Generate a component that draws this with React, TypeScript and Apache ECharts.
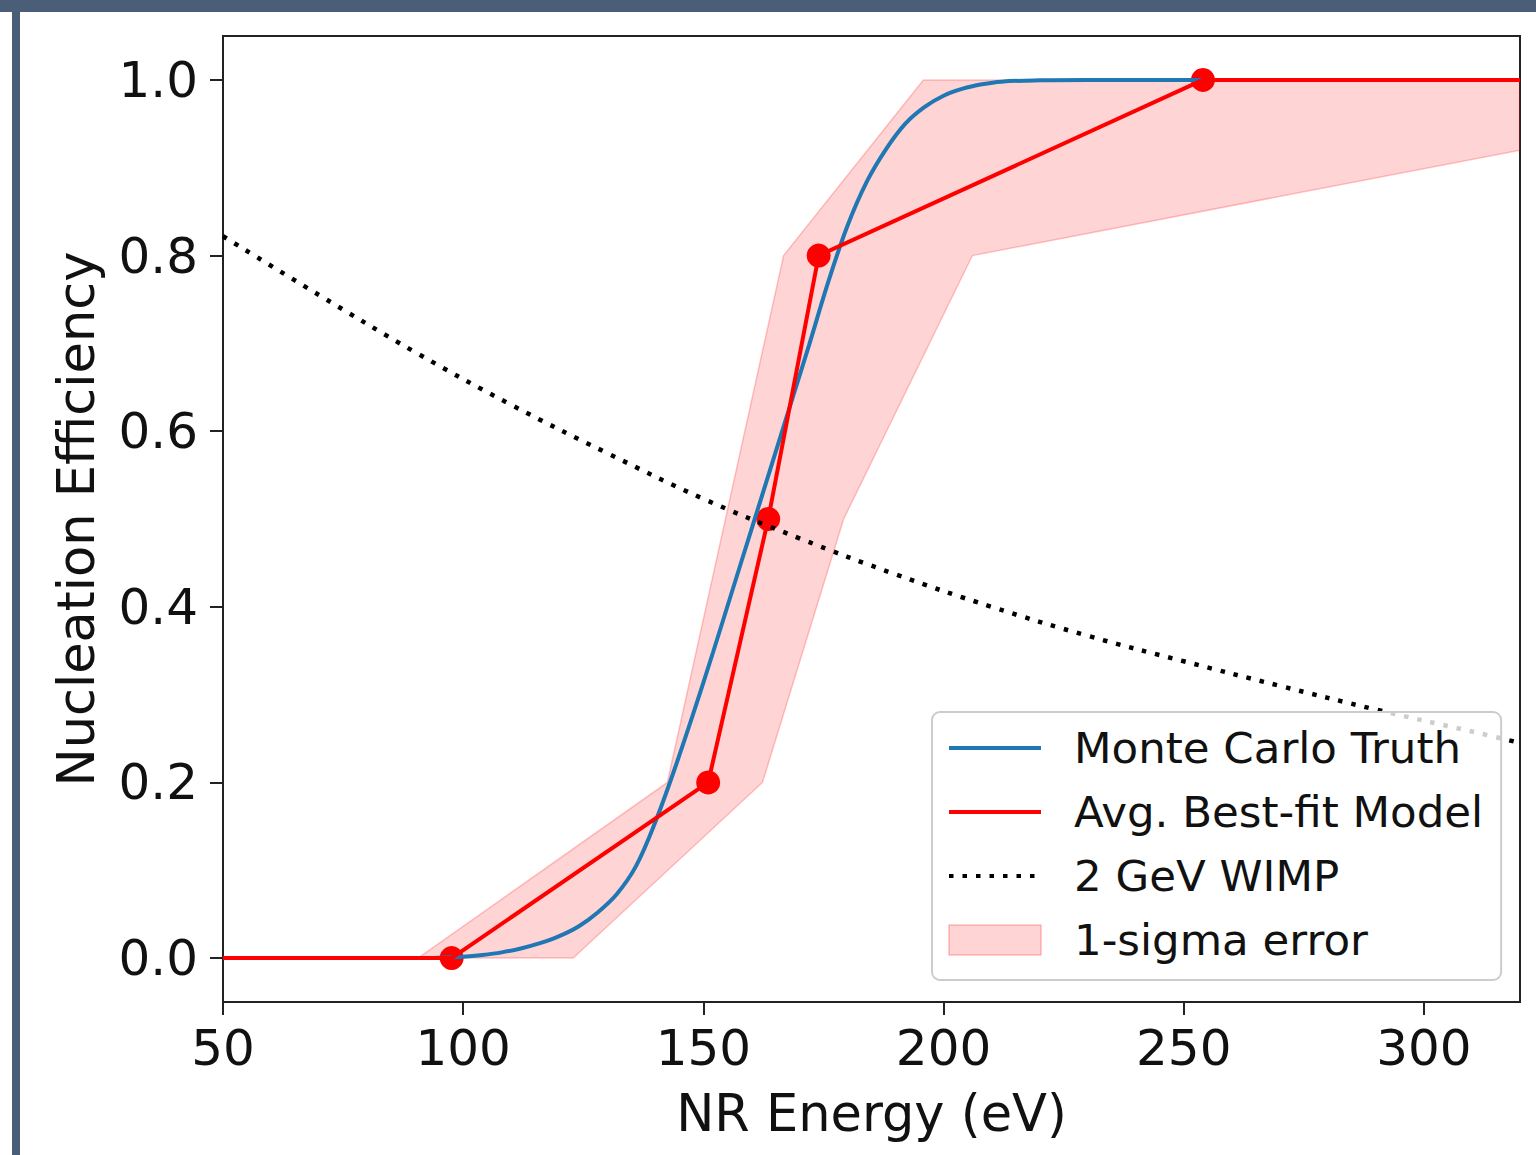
import { useEffect, useRef } from "react";
import * as echarts from "echarts";

const xTicks = [50, 100, 150, 200, 250, 300];
const yTicks = [0, 0.2, 0.4, 0.6, 0.8, 1.0];

// Monte Carlo Truth (blue)
const mcTruthX = [50, 92, 96, 100, 104, 108, 112, 116, 120, 124, 128, 132, 136, 140, 144, 148, 152, 156, 160, 164, 168, 172, 176, 180, 184, 188, 192, 196, 200, 204, 208, 212, 220, 230, 320];
const mcTruthY = [0, 0, 0.0007, 0.0015, 0.0035, 0.0065, 0.011, 0.017, 0.025, 0.036, 0.052, 0.073, 0.105, 0.155, 0.215, 0.28, 0.348, 0.418, 0.488, 0.558, 0.628, 0.698, 0.77, 0.834, 0.884, 0.921, 0.95, 0.969, 0.982, 0.99, 0.995, 0.998, 0.9995, 1.0, 1.0];

// Avg. Best-fit Model (red)
const fitX = [50, 97.6, 151, 163.5, 174, 254, 320];
const fitY = [0, 0, 0.2, 0.5, 0.8, 1.0, 1.0];
const markerX = [97.6, 151, 163.5, 174, 254];
const markerY = [0, 0.2, 0.5, 0.8, 1.0];

// 2 GeV WIMP (dotted)
const wimpX = [50, 70, 90, 110, 130, 150, 170, 190, 210, 230, 250, 270, 290, 310, 320];
const wimpY = [0.822, 0.755, 0.69, 0.63, 0.575, 0.523, 0.478, 0.437, 0.4, 0.367, 0.338, 0.31, 0.283, 0.258, 0.245];

// 1-sigma band
const bandUpperX = [50, 90.6, 142.5, 166.7, 195.8, 320];
const bandUpperY = [0, 0, 0.2, 0.8, 1.0, 1.0];
const bandLowerX = [50, 122.9, 162.3, 179.2, 206, 320];
const bandLowerY = [0, 0, 0.2, 0.5, 0.8, 0.92];

const zip = (xs: number[], ys: number[]) => xs.map((x, i) => [x, ys[i]]);

export default function App() {
  const ref = useRef<HTMLDivElement>(null);
  useEffect(() => {
    const chart = echarts.init(ref.current!, null, { renderer: "svg" });
    const bandPolygon = [
      ...zip(bandUpperX, bandUpperY),
      ...zip(bandLowerX, bandLowerY).reverse(),
    ];
    const textColor = "#111";
    const axisColor = "#222";
    const hiddenSymbol = {
      color: "rgba(0,0,0,0)",
      borderWidth: 0,
      opacity: 0,
    };
    chart.setOption({
      animation: false,
      backgroundColor: "#ffffff",
      textStyle: { fontFamily: "DejaVu Sans" },
      grid: {
        left: 223,
        top: 36,
        right: 16,
        bottom: 153,
        show: true,
        borderColor: axisColor,
        borderWidth: 2,
        backgroundColor: "transparent",
      },
      xAxis: {
        type: "value",
        min: 50,
        max: 320,
        name: "NR Energy (eV)",
        nameLocation: "middle",
        nameGap: 86,
        nameTextStyle: { fontSize: 51, color: textColor, fontFamily: "DejaVu Sans" },
        axisLine: { show: false, onZero: false },
        axisTick: {
          show: true,
          length: 13,
          lineStyle: { color: axisColor, width: 2 },
          customValues: xTicks,
        },
        axisLabel: {
          customValues: xTicks,
          fontSize: 50,
          color: textColor,
          margin: 21,
          fontFamily: "DejaVu Sans",
        },
        splitLine: { show: false },
      },
      yAxis: {
        type: "value",
        min: -0.05,
        max: 1.05,
        name: "Nucleation Efficiency",
        nameLocation: "middle",
        nameGap: 121,
        nameRotate: 90,
        nameTextStyle: { fontSize: 51, color: textColor, fontFamily: "DejaVu Sans" },
        axisLine: { show: false, onZero: false },
        axisTick: {
          show: true,
          length: 13,
          lineStyle: { color: axisColor, width: 2 },
          customValues: yTicks,
        },
        axisLabel: {
          customValues: yTicks,
          fontSize: 50,
          color: textColor,
          margin: 25,
          fontFamily: "DejaVu Sans",
          formatter: (v: number) => v.toFixed(1),
        },
        splitLine: { show: false },
      },
      legend: {
        left: 932,
        top: 712,
        orient: "vertical",
        itemWidth: 92,
        itemHeight: 30,
        itemGap: 16,
        padding: [12, 18, 16, 15],
        backgroundColor: "rgba(255,255,255,0.8)",
        borderColor: "#cccccc",
        borderWidth: 2,
        borderRadius: 8,
        selectedMode: false,
        textStyle: {
          fontSize: 43.5,
          color: textColor,
          lineHeight: 48,
          padding: [0, 0, 0, 28],
          fontFamily: "DejaVu Sans",
        },
        lineStyle: { width: 4 },
        data: [
          { name: "Monte Carlo Truth", itemStyle: hiddenSymbol },
          { name: "Avg. Best-fit Model", itemStyle: hiddenSymbol },
          { name: "2 GeV WIMP", itemStyle: hiddenSymbol },
          {
            name: "1-sigma error",
            icon: "rect",
            itemStyle: {
              color: "rgba(255,0,0,0.17)",
              borderColor: "rgba(255,0,0,0.25)",
              borderWidth: 1.5,
            },
          },
        ],
      },
      graphic: [
        {
          type: "rect",
          z: 100,
          shape: { x: 0, y: 0, width: 1536, height: 12 },
          style: { fill: "#4a5e78" },
        },
        {
          type: "rect",
          z: 100,
          shape: { x: 12, y: 12, width: 8, height: 1143 },
          style: { fill: "#4a5e78" },
        },
      ],
      series: [
        {
          type: "custom",
          name: "1-sigma error",
          clip: true,
          data: bandPolygon,
          encode: { x: 0, y: 1 },
          itemStyle: { color: "rgba(255,0,0,0.17)" },
          renderItem: (params: any, api: any) => {
            if (params.dataIndex !== 0) return { type: "group", children: [] };
            const pts = bandPolygon.map((p) => api.coord(p));
            return {
              type: "polygon",
              shape: { points: pts },
              style: {
                fill: "rgba(255,0,0,0.17)",
                stroke: "rgba(255,0,0,0.22)",
                lineWidth: 1.5,
              },
            };
          },
        },
        {
          type: "line",
          name: "Monte Carlo Truth",
          data: zip(mcTruthX, mcTruthY),
          smooth: 0.35,
          symbol: "none",
          showSymbol: false,
          lineStyle: { color: "#1f77b4", width: 4 },
          itemStyle: { color: "#1f77b4" },
        },
        {
          type: "line",
          name: "Avg. Best-fit Model",
          data: zip(fitX, fitY),
          symbol: "none",
          showSymbol: false,
          lineStyle: { color: "#ff0000", width: 4 },
          itemStyle: { color: "#ff0000" },
        },
        {
          type: "scatter",
          name: "fitPoints",
          data: zip(markerX, markerY),
          symbol: "circle",
          symbolSize: 24,
          itemStyle: { color: "#ff0000", opacity: 1 },
        },
        {
          type: "line",
          name: "2 GeV WIMP",
          data: zip(wimpX, wimpY),
          smooth: 0.4,
          symbol: "none",
          showSymbol: false,
          lineStyle: { color: "#000000", width: 4.5, type: [4.5, 9], cap: "butt" },
          itemStyle: { color: "#000000" },
        },
      ],
    });
    return () => chart.dispose();
  }, []);
  return (
    <div
      ref={ref}
      style={{ position: "absolute", left: 0, top: 0, width: 1536, height: 1155 }}
    />
  );
}
